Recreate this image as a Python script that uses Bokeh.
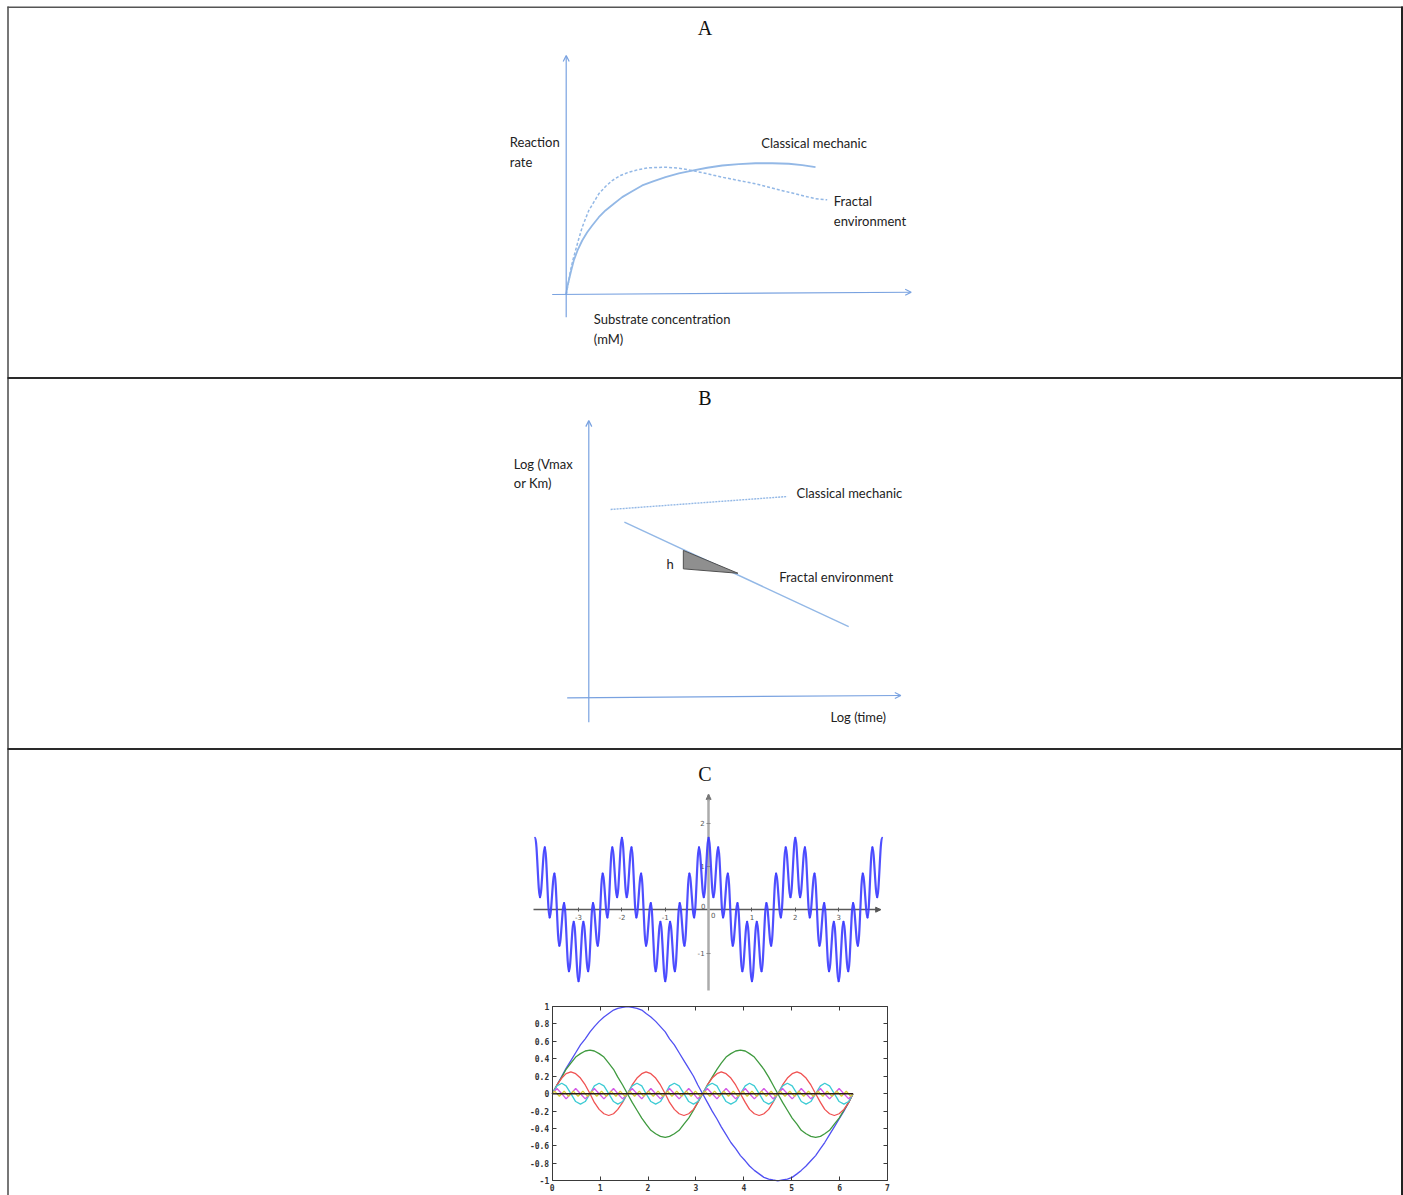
from bokeh.plotting import figure
from bokeh.models import Range1d, LinearAxis, FixedTicker, Arrow, OpenHead, NormalHead
from bokeh.core.properties import value
from bokeh.embed import file_html
from bokeh.resources import INLINE

# ---------------- DATA ----------------
# Panel A: reaction rate vs substrate concentration (arbitrary units)
A_CLASSICAL_X = [0, 0.029, 0.075, 0.145, 0.220, 0.328, 0.464, 0.609, 0.754, 0.945, 1.139, 1.380, 1.623,
                 1.913, 2.203, 2.539, 2.878, 3.264, 3.652, 4.087, 4.522, 5.003, 5.487, 5.971, 6.452,
                 6.841, 7.226]
A_CLASSICAL_Y = [0, 0.055, 0.105, 0.180, 0.256, 0.331, 0.406, 0.468, 0.519, 0.581, 0.632, 0.682, 0.732,
                 0.777, 0.820, 0.852, 0.882, 0.910, 0.932, 0.953, 0.970, 0.980, 0.987, 0.987, 0.983,
                 0.972, 0.957]
A_FRACTAL_X = [0, 0.058, 0.125, 0.191, 0.270, 0.365, 0.464, 0.559, 0.655, 0.800, 0.945, 1.139, 1.333,
               1.574, 1.814, 2.104, 2.394, 2.878, 3.264, 3.652, 4.087, 4.522, 5.487, 6.452, 7.226, 7.565]
A_FRACTAL_Y = [0, 0.080, 0.180, 0.256, 0.331, 0.419, 0.506, 0.569, 0.632, 0.694, 0.757, 0.812, 0.857,
               0.895, 0.920, 0.940, 0.953, 0.957, 0.950, 0.932, 0.908, 0.882, 0.832, 0.769, 0.720, 0.712]

# Panel B: log(Vmax or Km) vs log(time) (arbitrary units)
B_CLASSICAL_X = [0.70, 6.36]
B_CLASSICAL_Y = [6.82, 7.29]
B_FRACTAL_X = [1.14, 8.33]
B_FRACTAL_Y = [6.36, 2.56]
B_SLOPE_X = [3.03, 3.03, 4.78]
B_SLOPE_Y = [5.33, 4.66, 4.50]

# Panel C, upper plot: successive extrema of the oscillating curve
C1_X = [-4.000, -3.889, -3.778, -3.667, -3.556, -3.444, -3.333, -3.222, -3.111,
        -3.000, -2.889, -2.778, -2.667, -2.556, -2.444, -2.333, -2.222, -2.111,
        -2.000, -1.889, -1.778, -1.667, -1.556, -1.444, -1.333, -1.222, -1.111,
        -1.000, -0.889, -0.778, -0.667, -0.556, -0.444, -0.333, -0.222, -0.111,
        0.000, 0.111, 0.222, 0.333, 0.444, 0.556, 0.667, 0.778, 0.889,
        1.000, 1.111, 1.222, 1.333, 1.444, 1.556, 1.667, 1.778, 1.889,
        2.000, 2.111, 2.222, 2.333, 2.444, 2.556, 2.667, 2.778, 2.889,
        3.000, 3.111, 3.222, 3.333, 3.444, 3.556, 3.667, 3.778, 3.889,
        4.000]
C1_Y = [1.66, 0.29, 1.44, -0.18, 0.83, -0.83, 0.15, -1.42, -0.28,
        -1.65, -0.28, -1.42, 0.15, -0.83, 0.83, -0.18, 1.44, 0.29,
        1.66, 0.29, 1.44, -0.18, 0.83, -0.83, 0.15, -1.42, -0.28,
        -1.65, -0.28, -1.42, 0.15, -0.83, 0.83, -0.18, 1.44, 0.29,
        1.66, 0.29, 1.44, -0.18, 0.83, -0.83, 0.15, -1.42, -0.28,
        -1.65, -0.28, -1.42, 0.15, -0.83, 0.83, -0.18, 1.44, 0.29,
        1.66, 0.29, 1.44, -0.18, 0.83, -0.83, 0.15, -1.42, -0.28,
        -1.65, -0.28, -1.42, 0.15, -0.83, 0.83, -0.18, 1.44, 0.29,
        1.66]
C1_XTICKS = [-3, -2, -1, 1, 2, 3]
C1_XLABELS = ["-3", "-2", "-1", "1", "2", "3"]
C1_YTICKS = [-1, 1, 2]
C1_YLABELS = ["-1", "1", "2"]

# Panel C, lower plot: harmonic components
C2_X = [0.00, 0.10, 0.20, 0.29, 0.39, 0.49, 0.59, 0.69, 0.79, 0.88,
        0.98, 1.08, 1.18, 1.28, 1.37, 1.47, 1.57, 1.67, 1.77, 1.87,
        1.96, 2.06, 2.16, 2.26, 2.36, 2.45, 2.55, 2.65, 2.75, 2.85,
        2.95, 3.04, 3.14, 3.24, 3.34, 3.44, 3.53, 3.63, 3.73, 3.83,
        3.93, 4.03, 4.12, 4.22, 4.32, 4.42, 4.52, 4.61, 4.71, 4.81,
        4.91, 5.01, 5.11, 5.20, 5.30, 5.40, 5.50, 5.60, 5.69, 5.79,
        5.89, 5.99, 6.09, 6.19, 6.28]
C2_BLUE = [0.00, 0.10, 0.20, 0.29, 0.38, 0.47, 0.56, 0.63, 0.71, 0.77,
           0.83, 0.88, 0.92, 0.96, 0.98, 0.99, 1.00, 0.99, 0.98, 0.96,
           0.92, 0.88, 0.83, 0.77, 0.71, 0.63, 0.56, 0.47, 0.38, 0.29,
           0.20, 0.10, 0.00, -0.10, -0.20, -0.29, -0.38, -0.47, -0.56, -0.63,
           -0.71, -0.77, -0.83, -0.88, -0.92, -0.96, -0.98, -0.99, -1.00, -0.99,
           -0.98, -0.96, -0.92, -0.88, -0.83, -0.77, -0.71, -0.63, -0.56, -0.47,
           -0.38, -0.29, -0.20, -0.10, 0.00]
C2_GREEN = [0.00, 0.10, 0.19, 0.28, 0.35, 0.42, 0.46, 0.49, 0.50, 0.49,
            0.46, 0.42, 0.35, 0.28, 0.19, 0.10, 0.00, -0.10, -0.19, -0.28,
            -0.35, -0.42, -0.46, -0.49, -0.50, -0.49, -0.46, -0.42, -0.35, -0.28,
            -0.19, -0.10, 0.00, 0.10, 0.19, 0.28, 0.35, 0.42, 0.46, 0.49,
            0.50, 0.49, 0.46, 0.42, 0.35, 0.28, 0.19, 0.10, 0.00, -0.10,
            -0.19, -0.28, -0.35, -0.42, -0.46, -0.49, -0.50, -0.49, -0.46, -0.42,
            -0.35, -0.28, -0.19, -0.10, 0.00]
C2_RED = [0.00,
          0.10, 0.18, 0.23, 0.25, 0.23, 0.18, 0.10, 0.00, -0.10, -0.18, -0.23, -0.25, -0.23, -0.18, -0.10, 0.00,
          0.10, 0.18, 0.23, 0.25, 0.23, 0.18, 0.10, 0.00, -0.10, -0.18, -0.23, -0.25, -0.23, -0.18, -0.10, 0.00,
          0.10, 0.18, 0.23, 0.25, 0.23, 0.18, 0.10, 0.00, -0.10, -0.18, -0.23, -0.25, -0.23, -0.18, -0.10, 0.00,
          0.10, 0.18, 0.23, 0.25, 0.23, 0.18, 0.10, 0.00, -0.10, -0.18, -0.23, -0.25, -0.23, -0.18, -0.10, 0.00]
C2_CYAN = [0.00,
           0.09, 0.12, 0.09, 0.00, -0.09, -0.12, -0.09, 0.00,
           0.09, 0.12, 0.09, 0.00, -0.09, -0.12, -0.09, 0.00,
           0.09, 0.12, 0.09, 0.00, -0.09, -0.12, -0.09, 0.00,
           0.09, 0.12, 0.09, 0.00, -0.09, -0.12, -0.09, 0.00,
           0.09, 0.12, 0.09, 0.00, -0.09, -0.12, -0.09, 0.00,
           0.09, 0.12, 0.09, 0.00, -0.09, -0.12, -0.09, 0.00,
           0.09, 0.12, 0.09, 0.00, -0.09, -0.12, -0.09, 0.00,
           0.09, 0.12, 0.09, 0.00, -0.09, -0.12, -0.09, 0.00]
C2_MAGENTA = [0.00,
              0.06, 0.00, -0.06, 0.00, 0.06, 0.00, -0.06, 0.00, 0.06, 0.00, -0.06, 0.00, 0.06, 0.00, -0.06, 0.00,
              0.06, 0.00, -0.06, 0.00, 0.06, 0.00, -0.06, 0.00, 0.06, 0.00, -0.06, 0.00, 0.06, 0.00, -0.06, 0.00,
              0.06, 0.00, -0.06, 0.00, 0.06, 0.00, -0.06, 0.00, 0.06, 0.00, -0.06, 0.00, 0.06, 0.00, -0.06, 0.00,
              0.06, 0.00, -0.06, 0.00, 0.06, 0.00, -0.06, 0.00, 0.06, 0.00, -0.06, 0.00, 0.06, 0.00, -0.06, 0.00]
C2_YELLOW_X = [0.00,
               0.05, 0.15, 0.25, 0.34, 0.44, 0.54, 0.64, 0.74, 0.83, 0.93, 1.03, 1.13, 1.23, 1.33, 1.42, 1.52,
               1.62, 1.72, 1.82, 1.91, 2.01, 2.11, 2.21, 2.31, 2.41, 2.50, 2.60, 2.70, 2.80, 2.90, 2.99, 3.09,
               3.19, 3.29, 3.39, 3.49, 3.58, 3.68, 3.78, 3.88, 3.98, 4.07, 4.17, 4.27, 4.37, 4.47, 4.57, 4.66,
               4.76, 4.86, 4.96, 5.06, 5.15, 5.25, 5.35, 5.45, 5.55, 5.65, 5.74, 5.84, 5.94, 6.04, 6.14, 6.23,
               6.28]
C2_YELLOW = [0.00,
             0.03, -0.03, 0.03, -0.03, 0.03, -0.03, 0.03, -0.03, 0.03, -0.03, 0.03, -0.03, 0.03, -0.03, 0.03, -0.03,
             0.03, -0.03, 0.03, -0.03, 0.03, -0.03, 0.03, -0.03, 0.03, -0.03, 0.03, -0.03, 0.03, -0.03, 0.03, -0.03,
             0.03, -0.03, 0.03, -0.03, 0.03, -0.03, 0.03, -0.03, 0.03, -0.03, 0.03, -0.03, 0.03, -0.03, 0.03, -0.03,
             0.03, -0.03, 0.03, -0.03, 0.03, -0.03, 0.03, -0.03, 0.03, -0.03, 0.03, -0.03, 0.03, -0.03, 0.03, -0.03,
             0.00]
C2_BLACK_X = [0.00, 6.28]
C2_BLACK_Y = [0.00, 0.00]
C2_XTICKS = [0, 1, 2, 3, 4, 5, 6, 7]
C2_XLABELS = ["0", "1", "2", "3", "4", "5", "6", "7"]
C2_YTICKS = [-1, -0.8, -0.6, -0.4, -0.2, 0, 0.2, 0.4, 0.6, 0.8, 1]
C2_YLABELS = ["-1", "-0.8", "-0.6", "-0.4", "-0.2", "0", "0.2", "0.4", "0.6", "0.8", "1"]

# Texts
TITLES = ["A", "B", "C"]
LABELS_A = ["Reaction", "rate", "Classical mechanic", "Fractal", "environment",
            "Substrate concentration", "(mM)"]
LABELS_B = ["Log (Vmax", "or Km)", "Classical mechanic", "Fractal environment", "h", "Log (time)"]

# ---------------- LAYOUT (page pixels; text positions = left edge / vertical centre) ----------------
W, H = 1403, 1195
TITLE_POS = [(704.5, 27.0), (704.5, 397.0), (704.5, 773.0)]
LABELS_A_POS = [(509.3, 141.7), (509.3, 161.7), (760.7, 142.7), (833.3, 200.7), (833.3, 220.7),
                (593.3, 318.3), (593.3, 338.3)]
LABELS_B_POS = [(513.3, 463.3), (513.3, 482.7), (796.0, 492.3), (778.7, 576.7), (666.0, 563.3),
                (830.0, 716.7)]


def page_ranges(ox, oy, sx, sy):
    """Ranges that put data (0,0) at page pixel (ox, oy) with sx, sy px per unit."""
    return Range1d(-ox / sx, (W - ox) / sx), Range1d((oy - H) / sy, oy / sy)


p = figure(width=W, height=H, x_range=Range1d(0, W), y_range=Range1d(H, 0),
           x_axis_type=None, y_axis_type=None, toolbar_location=None,
           output_backend="svg", min_border=0, outline_line_color=None,
           background_fill_color="white", border_fill_color="white")

xa, ya = page_ranges(565.7, 294.0, 34.5, 133.0)
xb, yb = page_ranges(588.3, 696.5, 31.2, 27.5)
xc1, yc1 = page_ranges(708.1, 909.2, 43.35, 43.35)
xc2, yc2 = page_ranges(551.7, 1093.2, 47.9, 87.15)
p.extra_x_ranges = {"xa": xa, "xb": xb, "xc1": xc1, "xc2": xc2}
p.extra_y_ranges = {"ya": ya, "yb": yb, "yc1": yc1, "yc2": yc2}

# table borders
p.segment(x0=[7.0], y0=[6.8], x1=[1402.5], y1=[6.8], line_color="#555555", line_width=1.5)
p.segment(x0=[7.5], y0=[6.0], x1=[7.5], y1=[H], line_color="#555555", line_width=1.6)
p.segment(x0=[1401.5], y0=[6.0], x1=[1401.5], y1=[H], line_color="#222222", line_width=2)
p.segment(x0=[7.0, 7.0], y0=[377.5, 748.5], x1=[1402.5, 1402.5], y1=[377.5, 748.5],
          line_color="#2a2a2a", line_width=2.2)

# titles
p.text(x=[t[0] for t in TITLE_POS], y=[t[1] for t in TITLE_POS], text=TITLES,
       text_align="center", text_baseline="middle", text_font=value("Liberation Serif"),
       text_font_size="20px", text_color="#111111")

p.text(x=[t[0] for t in LABELS_A_POS + LABELS_B_POS],
       y=[t[1] for t in LABELS_A_POS + LABELS_B_POS],
       text=LABELS_A + LABELS_B, text_align="left", text_baseline="middle",
       text_font=value("Lato"), text_font_size="13px", text_color="#222222")

# ---------- Panel A ----------
AX_COL = "#79a2e0"
CURVE_COL = "#93b8e6"
p.add_layout(Arrow(end=OpenHead(size=6, line_color=AX_COL, line_width=1.2),
                   x_start=0, y_start=-0.171, x_end=0, y_end=1.797,
                   line_color=AX_COL, line_width=1.2, x_range_name="xa", y_range_name="ya"))
p.add_layout(Arrow(end=OpenHead(size=6, line_color=AX_COL, line_width=1.2),
                   x_start=-0.406, y_start=0, x_end=10.0, y_end=0.017,
                   line_color=AX_COL, line_width=1.2, x_range_name="xa", y_range_name="ya"))
p.line(A_CLASSICAL_X, A_CLASSICAL_Y, x_range_name="xa", y_range_name="ya",
       line_color=CURVE_COL, line_width=1.8, line_join="round")
p.line(A_FRACTAL_X, A_FRACTAL_Y, x_range_name="xa", y_range_name="ya",
       line_color=CURVE_COL, line_width=1.5, line_dash="3 2", line_join="round")

# ---------- Panel B ----------
p.add_layout(Arrow(end=OpenHead(size=6, line_color=AX_COL, line_width=1.2),
                   x_start=0, y_start=-0.916, x_end=0, y_end=10.05,
                   line_color=AX_COL, line_width=1.2, x_range_name="xb", y_range_name="yb"))
p.add_layout(Arrow(end=OpenHead(size=6, line_color=AX_COL, line_width=1.2),
                   x_start=-0.692, y_start=-0.03, x_end=10.0, y_end=0.055,
                   line_color=AX_COL, line_width=1.2, x_range_name="xb", y_range_name="yb"))
p.line(B_CLASSICAL_X, B_CLASSICAL_Y, x_range_name="xb", y_range_name="yb",
       line_color=CURVE_COL, line_width=1.4, line_dash="2 1")
p.line(B_FRACTAL_X, B_FRACTAL_Y, x_range_name="xb", y_range_name="yb",
       line_color=CURVE_COL, line_width=1.4)
p.patch(B_SLOPE_X, B_SLOPE_Y, x_range_name="xb", y_range_name="yb",
        fill_color="#8f8f8f", line_color="#505050", line_width=1)

# ---------- Panel C, upper (GeoGebra style) ----------
xax1 = LinearAxis(x_range_name="xc1", y_range_name="yc1", fixed_location=0, bounds=(-4.04, 3.97),
                  ticker=FixedTicker(ticks=C1_XTICKS),
                  major_label_overrides=dict(zip(C1_XTICKS, C1_XLABELS)),
                  axis_line_color="#5a5a5a", axis_line_width=1.3,
                  major_tick_line_color="#5a5a5a", major_tick_in=2, major_tick_out=2,
                  minor_tick_line_color=None, major_label_text_font="DejaVu Sans",
                  major_label_text_font_size="7px", major_label_text_color="#555555",
                  major_label_standoff=2, level="underlay")
p.add_layout(xax1, "below")
yax1 = LinearAxis(x_range_name="xc1", y_range_name="yc1", fixed_location=0, bounds=(-1.86, 2.66),
                  ticker=FixedTicker(ticks=C1_YTICKS),
                  major_label_overrides=dict(zip(C1_YTICKS, C1_YLABELS)),
                  axis_line_color="#ababab", axis_line_width=2.5,
                  major_tick_line_color="#888888", major_tick_in=2, major_tick_out=2,
                  minor_tick_line_color=None, major_label_text_font="DejaVu Sans",
                  major_label_text_font_size="7px", major_label_text_color="#555555",
                  major_label_standoff=2, level="underlay")
p.add_layout(yax1, "left")
p.add_layout(Arrow(end=NormalHead(size=5, fill_color="#777777", line_color="#777777"),
                   x_start=0, y_start=2.5, x_end=0, y_end=2.66, line_color="#ababab",
                   line_width=2.5, x_range_name="xc1", y_range_name="yc1"))
p.add_layout(Arrow(end=NormalHead(size=5, fill_color="#555555", line_color="#555555"),
                   x_start=3.85, y_start=0, x_end=3.97, y_end=0, line_color="#5a5a5a",
                   line_width=1.3, x_range_name="xc1", y_range_name="yc1"))
p.text(x=[702.7, 712.7], y=[905.3, 914.7], text=["0", "0"],
       text_align="center", text_baseline="middle", text_font=value("DejaVu Sans"),
       text_font_size="7px", text_color="#555555")

# smooth rendering through successive extrema (horizontal tangents at each extremum)
K = 0.364
bx0, by0 = C1_X[:-1], C1_Y[:-1]
bx1, by1 = C1_X[1:], C1_Y[1:]
bcx0 = [a + K * (b - a) for a, b in zip(bx0, bx1)]
bcx1 = [b - K * (b - a) for a, b in zip(bx0, bx1)]
p.bezier(x0=bx0, y0=by0, x1=bx1, y1=by1, cx0=bcx0, cy0=by0, cx1=bcx1, cy1=by1,
         x_range_name="xc1", y_range_name="yc1", line_color="#3c3cff", line_width=2.2,
         line_cap="round", line_alpha=0.9)

# ---------- Panel C, lower (gnuplot style) ----------
p.line(C2_X, C2_BLUE, x_range_name="xc2", y_range_name="yc2", line_color="#5050f2", line_width=1.3)
p.line(C2_X, C2_GREEN, x_range_name="xc2", y_range_name="yc2", line_color="#3f9a3f", line_width=1.3)
p.line(C2_X, C2_RED, x_range_name="xc2", y_range_name="yc2", line_color="#f05252", line_width=1.3)
p.line(C2_X, C2_CYAN, x_range_name="xc2", y_range_name="yc2", line_color="#3ccbd4", line_width=1.3)
p.line(C2_X, C2_MAGENTA, x_range_name="xc2", y_range_name="yc2", line_color="#d45ae6", line_width=1.3)
p.line(C2_YELLOW_X, C2_YELLOW, x_range_name="xc2", y_range_name="yc2", line_color="#d8d030", line_width=1.3)
p.line(C2_BLACK_X, C2_BLACK_Y, x_range_name="xc2", y_range_name="yc2", line_color="#2a1a1a", line_width=1.6)

frame_kw = dict(x_range_name="xc2", y_range_name="yc2", axis_line_color="#3a3a3a", axis_line_width=1,
                major_tick_line_color="#3a3a3a", major_tick_in=4, major_tick_out=0,
                minor_tick_line_color=None, major_label_text_font="DejaVu Sans Mono",
                major_label_text_font_style="bold", major_label_text_font_size="8px",
                major_label_text_color="#333333", major_label_standoff=3)
p.add_layout(LinearAxis(fixed_location=-1, bounds=(0, 7), ticker=FixedTicker(ticks=C2_XTICKS),
                        major_label_overrides=dict(zip(C2_XTICKS, C2_XLABELS)), **frame_kw), "below")
p.add_layout(LinearAxis(fixed_location=0, bounds=(-1, 1), ticker=FixedTicker(ticks=C2_YTICKS),
                        major_label_overrides=dict(zip(C2_YTICKS, C2_YLABELS)), **frame_kw), "left")
top_kw = dict(frame_kw)
top_kw["major_label_text_color"] = None
p.add_layout(LinearAxis(fixed_location=1, bounds=(0, 7), ticker=FixedTicker(ticks=C2_XTICKS),
                        **top_kw), "above")
p.add_layout(LinearAxis(fixed_location=7, bounds=(-1, 1), ticker=FixedTicker(ticks=C2_YTICKS),
                        **top_kw), "right")

open("out.html", "w").write(file_html(p, INLINE))
